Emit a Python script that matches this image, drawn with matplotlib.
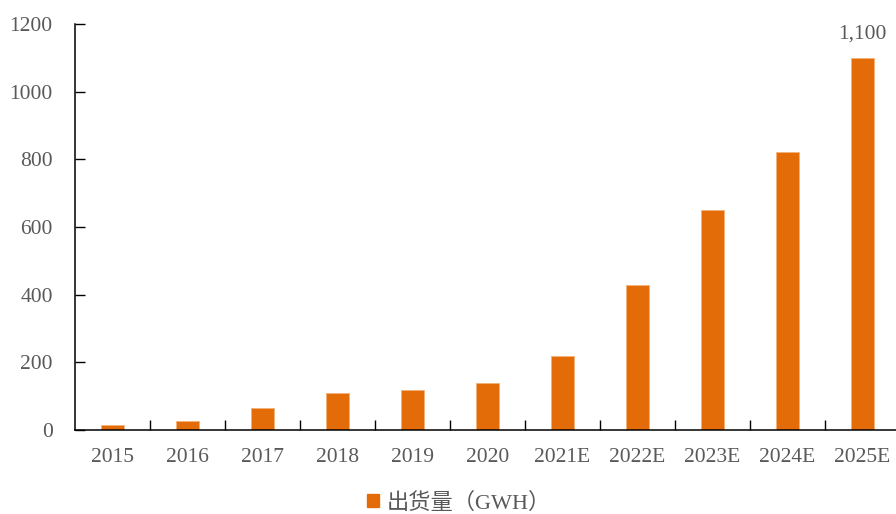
import matplotlib
matplotlib.use("Agg")
import matplotlib.pyplot as plt
import numpy as np
from matplotlib.patches import Patch

years = ["2015", "2016", "2017", "2018", "2019", "2020",
         "2021E", "2022E", "2023E", "2024E", "2025E"]
shipments = [14, 28, 64, 108, 117, 140, 220, 430, 650, 822, 1100]
y_ticks = [0, 200, 400, 600, 800, 1000, 1200]
legend_label = "出货量（GWH）"

bar_color = "#E36C09"
text_color = "#595959"
num_font = ["Liberation Serif", "DejaVu Serif"]
cjk_font = ["Liberation Serif", "Noto Sans CJK SC"]

fig = plt.figure(figsize=(8.96, 5.14), dpi=100)
ax = fig.add_axes([75 / 896, 84 / 514, 825 / 896, 406 / 514])

x = np.arange(len(years))
ax.bar(x, shipments, width=0.3, color=bar_color, edgecolor="#F5B27A", linewidth=0.6)

ax.set_xlim(-0.5, len(years) - 0.5)
ax.set_ylim(0, 1200)
ax.set_yticks(y_ticks)
ax.set_yticklabels([str(v) for v in y_ticks], fontfamily=num_font, fontsize=15.5, color=text_color)

# category labels sit between boundary ticks
ax.set_xticks(x)
ax.set_xticklabels(years, fontfamily=num_font, fontsize=15.5, color=text_color)
ax.tick_params(axis="x", length=0, pad=13)
ax.set_xticks(np.arange(0.5, len(years) - 0.5, 1), minor=True)
ax.tick_params(axis="x", which="minor", direction="in", length=7, width=1, color="black")
ax.tick_params(axis="y", direction="in", length=7, width=1, pad=16, color="black")

for s in ["top", "right"]:
    ax.spines[s].set_visible(False)
for s in ["left", "bottom"]:
    ax.spines[s].set_color("black")
    ax.spines[s].set_linewidth(1.1)

ax.annotate(f"{shipments[-1]:,}", (x[-1], shipments[-1]), xytext=(0, 10),
            textcoords="offset points", ha="center", va="bottom",
            fontfamily=num_font, fontsize=15.5, color=text_color)

handle = Patch(facecolor=bar_color, edgecolor=bar_color)
fig.legend([handle], [legend_label], loc="center", bbox_to_anchor=(459 / 896, 1 - 503 / 514),
           frameon=False, handlelength=0.5, handleheight=0.5, handletextpad=0.35,
           prop={"family": cjk_font, "size": 16}, labelcolor=text_color)

fig.savefig("out.png", dpi=100)
